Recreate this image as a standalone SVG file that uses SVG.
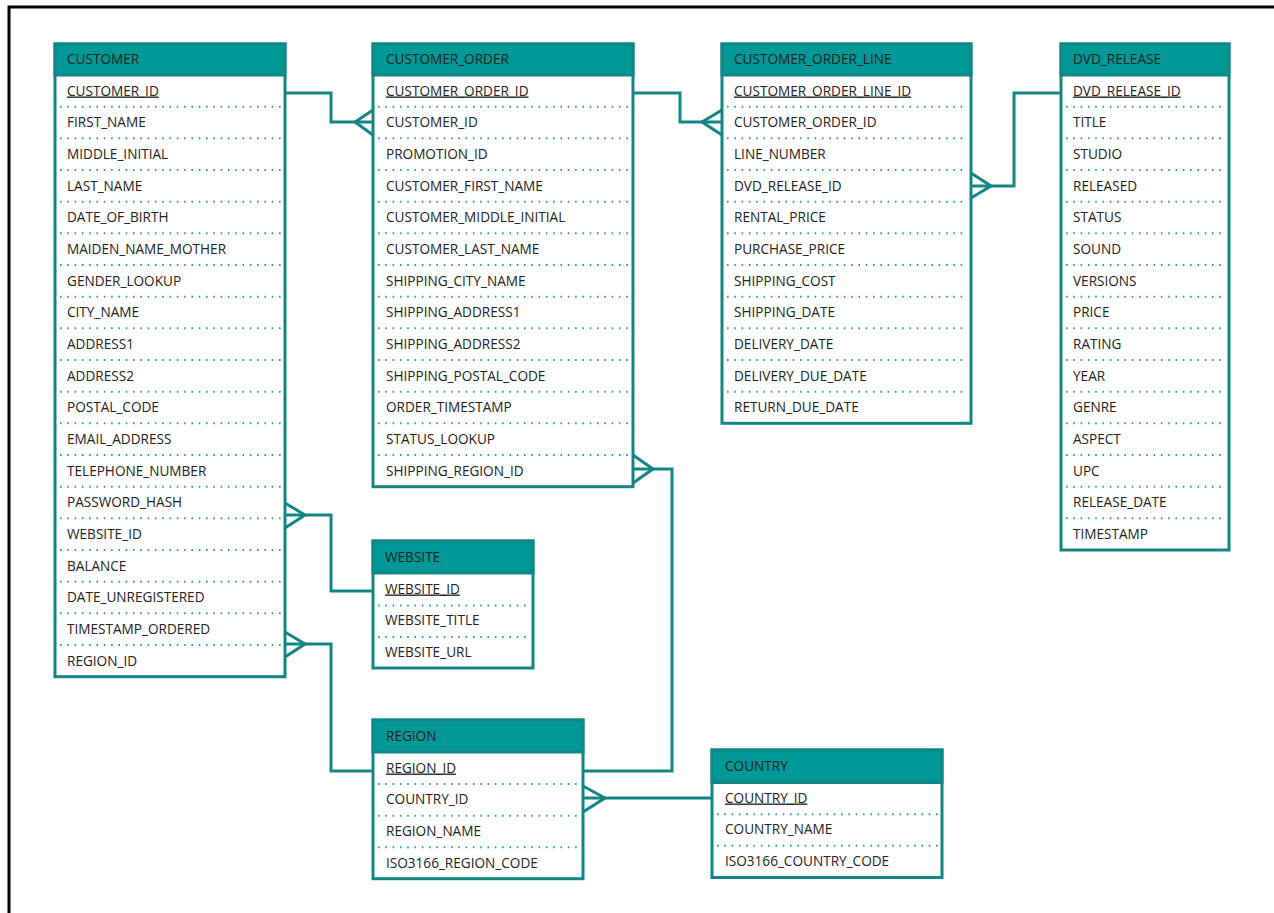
<svg xmlns="http://www.w3.org/2000/svg" width="1274" height="913" viewBox="0 0 1274 913">
<style>
  .frame{fill:none;stroke:#000;stroke-width:3}
  .box{fill:#fff;stroke:#128585;stroke-width:3}
  .hd{fill:#009896;stroke:#128585;stroke-width:3}
  text{font-family:"Open Sans","Liberation Sans",sans-serif;font-size:13.6px;fill:#222}
  .pk{text-decoration:underline}
  .sep{stroke:#2a9f9f;stroke-width:2;stroke-dasharray:1.6 5.7;stroke-linecap:butt}
  .rel{fill:none;stroke:#128585;stroke-width:3;stroke-linejoin:miter}
</style>
<rect width="1274" height="913" fill="#fff"/>
<path class="frame" d="M9,913 V7 H1274"/>

<!-- tables: header is 31px, each attribute row is 31.67px -->
<g id="customer" transform="translate(55,44)">
  <rect class="box" x="0" y="0" width="230" height="632.7"/>
  <rect class="hd" x="0" y="0" width="230" height="31"/>
  <text x="12" y="20">CUSTOMER</text>
  <g class="sep">
    <line x1="5" y1="62.7" x2="226" y2="62.7"/><line x1="5" y1="94.3" x2="226" y2="94.3"/>
    <line x1="5" y1="126" x2="226" y2="126"/><line x1="5" y1="157.7" x2="226" y2="157.7"/>
    <line x1="5" y1="189.3" x2="226" y2="189.3"/><line x1="5" y1="221" x2="226" y2="221"/>
    <line x1="5" y1="252.7" x2="226" y2="252.7"/><line x1="5" y1="284.3" x2="226" y2="284.3"/>
    <line x1="5" y1="316" x2="226" y2="316"/><line x1="5" y1="347.7" x2="226" y2="347.7"/>
    <line x1="5" y1="379.3" x2="226" y2="379.3"/><line x1="5" y1="411" x2="226" y2="411"/>
    <line x1="5" y1="442.7" x2="226" y2="442.7"/><line x1="5" y1="474.3" x2="226" y2="474.3"/>
    <line x1="5" y1="506" x2="226" y2="506"/><line x1="5" y1="537.7" x2="226" y2="537.7"/>
    <line x1="5" y1="569.3" x2="226" y2="569.3"/><line x1="5" y1="601" x2="226" y2="601"/>
  </g>
  <text class="pk" x="12" y="51.5">CUSTOMER_ID</text>
  <text x="12" y="83.2">FIRST_NAME</text>
  <text x="12" y="114.8">MIDDLE_INITIAL</text>
  <text x="12" y="146.5">LAST_NAME</text>
  <text x="12" y="178.2">DATE_OF_BIRTH</text>
  <text x="12" y="209.9">MAIDEN_NAME_MOTHER</text>
  <text x="12" y="241.5">GENDER_LOOKUP</text>
  <text x="12" y="273.2">CITY_NAME</text>
  <text x="12" y="304.9">ADDRESS1</text>
  <text x="12" y="336.5">ADDRESS2</text>
  <text x="12" y="368.2">POSTAL_CODE</text>
  <text x="12" y="399.9">EMAIL_ADDRESS</text>
  <text x="12" y="431.5">TELEPHONE_NUMBER</text>
  <text x="12" y="463.2">PASSWORD_HASH</text>
  <text x="12" y="494.9">WEBSITE_ID</text>
  <text x="12" y="526.6">BALANCE</text>
  <text x="12" y="558.2">DATE_UNREGISTERED</text>
  <text x="12" y="589.9">TIMESTAMP_ORDERED</text>
  <text x="12" y="621.6">REGION_ID</text>
</g>

<g id="customer_order" transform="translate(373,44)">
  <rect class="box" x="0" y="0" width="260" height="442.7"/>
  <rect class="hd" x="0" y="0" width="260" height="31"/>
  <text x="13" y="20">CUSTOMER_ORDER</text>
  <g class="sep">
    <line x1="5" y1="62.7" x2="256" y2="62.7"/><line x1="5" y1="94.3" x2="256" y2="94.3"/>
    <line x1="5" y1="126" x2="256" y2="126"/><line x1="5" y1="157.7" x2="256" y2="157.7"/>
    <line x1="5" y1="189.3" x2="256" y2="189.3"/><line x1="5" y1="221" x2="256" y2="221"/>
    <line x1="5" y1="252.7" x2="256" y2="252.7"/><line x1="5" y1="284.3" x2="256" y2="284.3"/>
    <line x1="5" y1="316" x2="256" y2="316"/><line x1="5" y1="347.7" x2="256" y2="347.7"/>
    <line x1="5" y1="379.3" x2="256" y2="379.3"/><line x1="5" y1="411" x2="256" y2="411"/>
  </g>
  <text class="pk" x="13" y="51.5">CUSTOMER_ORDER_ID</text>
  <text x="13" y="83.2">CUSTOMER_ID</text>
  <text x="13" y="114.8">PROMOTION_ID</text>
  <text x="13" y="146.5">CUSTOMER_FIRST_NAME</text>
  <text x="13" y="178.2">CUSTOMER_MIDDLE_INITIAL</text>
  <text x="13" y="209.9">CUSTOMER_LAST_NAME</text>
  <text x="13" y="241.5">SHIPPING_CITY_NAME</text>
  <text x="13" y="273.2">SHIPPING_ADDRESS1</text>
  <text x="13" y="304.9">SHIPPING_ADDRESS2</text>
  <text x="13" y="336.5">SHIPPING_POSTAL_CODE</text>
  <text x="13" y="368.2">ORDER_TIMESTAMP</text>
  <text x="13" y="399.9">STATUS_LOOKUP</text>
  <text x="13" y="431.5">SHIPPING_REGION_ID</text>
</g>

<g id="customer_order_line" transform="translate(722,44)">
  <rect class="box" x="0" y="0" width="249" height="379.3"/>
  <rect class="hd" x="0" y="0" width="249" height="31"/>
  <text x="12" y="20">CUSTOMER_ORDER_LINE</text>
  <g class="sep">
    <line x1="5" y1="62.7" x2="245" y2="62.7"/><line x1="5" y1="94.3" x2="245" y2="94.3"/>
    <line x1="5" y1="126" x2="245" y2="126"/><line x1="5" y1="157.7" x2="245" y2="157.7"/>
    <line x1="5" y1="189.3" x2="245" y2="189.3"/><line x1="5" y1="221" x2="245" y2="221"/>
    <line x1="5" y1="252.7" x2="245" y2="252.7"/><line x1="5" y1="284.3" x2="245" y2="284.3"/>
    <line x1="5" y1="316" x2="245" y2="316"/><line x1="5" y1="347.7" x2="245" y2="347.7"/>
  </g>
  <text class="pk" x="12" y="51.5">CUSTOMER_ORDER_LINE_ID</text>
  <text x="12" y="83.2">CUSTOMER_ORDER_ID</text>
  <text x="12" y="114.8">LINE_NUMBER</text>
  <text x="12" y="146.5">DVD_RELEASE_ID</text>
  <text x="12" y="178.2">RENTAL_PRICE</text>
  <text x="12" y="209.9">PURCHASE_PRICE</text>
  <text x="12" y="241.5">SHIPPING_COST</text>
  <text x="12" y="273.2">SHIPPING_DATE</text>
  <text x="12" y="304.9">DELIVERY_DATE</text>
  <text x="12" y="336.5">DELIVERY_DUE_DATE</text>
  <text x="12" y="368.2">RETURN_DUE_DATE</text>
</g>

<g id="dvd_release" transform="translate(1061,44)">
  <rect class="box" x="0" y="0" width="168" height="506"/>
  <rect class="hd" x="0" y="0" width="168" height="31"/>
  <text x="12" y="20">DVD_RELEASE</text>
  <g class="sep">
    <line x1="5" y1="62.7" x2="164" y2="62.7"/><line x1="5" y1="94.3" x2="164" y2="94.3"/>
    <line x1="5" y1="126" x2="164" y2="126"/><line x1="5" y1="157.7" x2="164" y2="157.7"/>
    <line x1="5" y1="189.3" x2="164" y2="189.3"/><line x1="5" y1="221" x2="164" y2="221"/>
    <line x1="5" y1="252.7" x2="164" y2="252.7"/><line x1="5" y1="284.3" x2="164" y2="284.3"/>
    <line x1="5" y1="316" x2="164" y2="316"/><line x1="5" y1="347.7" x2="164" y2="347.7"/>
    <line x1="5" y1="379.3" x2="164" y2="379.3"/><line x1="5" y1="411" x2="164" y2="411"/>
    <line x1="5" y1="442.7" x2="164" y2="442.7"/><line x1="5" y1="474.3" x2="164" y2="474.3"/>
  </g>
  <text class="pk" x="12" y="51.5">DVD_RELEASE_ID</text>
  <text x="12" y="83.2">TITLE</text>
  <text x="12" y="114.8">STUDIO</text>
  <text x="12" y="146.5">RELEASED</text>
  <text x="12" y="178.2">STATUS</text>
  <text x="12" y="209.9">SOUND</text>
  <text x="12" y="241.5">VERSIONS</text>
  <text x="12" y="273.2">PRICE</text>
  <text x="12" y="304.9">RATING</text>
  <text x="12" y="336.5">YEAR</text>
  <text x="12" y="368.2">GENRE</text>
  <text x="12" y="399.9">ASPECT</text>
  <text x="12" y="431.5">UPC</text>
  <text x="12" y="463.2">RELEASE_DATE</text>
  <text x="12" y="494.9">TIMESTAMP</text>
</g>

<g id="website" transform="translate(373,541)">
  <rect class="box" x="0" y="0" width="160" height="127"/>
  <rect class="hd" x="0" y="0" width="160" height="32"/>
  <text x="12" y="21">WEBSITE</text>
  <g class="sep">
    <line x1="5" y1="64.5" x2="156" y2="64.5"/><line x1="5" y1="96" x2="156" y2="96"/>
  </g>
  <text class="pk" x="12" y="52.5">WEBSITE_ID</text>
  <text x="12" y="84">WEBSITE_TITLE</text>
  <text x="12" y="115.5">WEBSITE_URL</text>
</g>

<g id="region" transform="translate(373,720)">
  <rect class="box" x="0" y="0" width="210" height="158.7"/>
  <rect class="hd" x="0" y="0" width="210" height="32"/>
  <text x="13" y="21">REGION</text>
  <g class="sep">
    <line x1="5" y1="64" x2="206" y2="64"/><line x1="5" y1="95.7" x2="206" y2="95.7"/>
    <line x1="5" y1="127.3" x2="206" y2="127.3"/>
  </g>
  <text class="pk" x="13" y="52.5">REGION_ID</text>
  <text x="13" y="84.2">COUNTRY_ID</text>
  <text x="13" y="115.8">REGION_NAME</text>
  <text x="13" y="147.5">ISO3166_REGION_CODE</text>
</g>

<g id="country" transform="translate(712,750)">
  <rect class="box" x="0" y="0" width="230" height="127.5"/>
  <rect class="hd" x="0" y="0" width="230" height="32.5"/>
  <text x="13" y="21">COUNTRY</text>
  <g class="sep">
    <line x1="5" y1="64.2" x2="226" y2="64.2"/><line x1="5" y1="95.8" x2="226" y2="95.8"/>
  </g>
  <text class="pk" x="13" y="52.5">COUNTRY_ID</text>
  <text x="13" y="84.2">COUNTRY_NAME</text>
  <text x="13" y="115.8">ISO3166_COUNTRY_CODE</text>
</g>

<!-- relationships: one side plain, many side drawn as a crow's foot -->
<g id="connectors" class="rel">
  <path d="M285,93 H331 V122 H373"/>
  <path d="M373,110 L355,122 L373,135"/>

  <path d="M633,93 H680 V122 H722"/>
  <path d="M722,110 L702,122 L722,135"/>

  <path d="M1061,93 H1014 V186 H971"/>
  <path d="M971,173 L991,186 L971,198"/>

  <path d="M373,591 H331 V515 H285"/>
  <path d="M285,503 L305,515 L285,528"/>

  <path d="M373,771 H331 V644 H285"/>
  <path d="M285,632 L305,644 L285,657"/>

  <path d="M583,771 H672 V469 H633"/>
  <path d="M633,455 L653,469 L633,483"/>

  <path d="M712,798 H583"/>
  <path d="M583,786 L605,798 L583,812"/>
</g>
</svg>
